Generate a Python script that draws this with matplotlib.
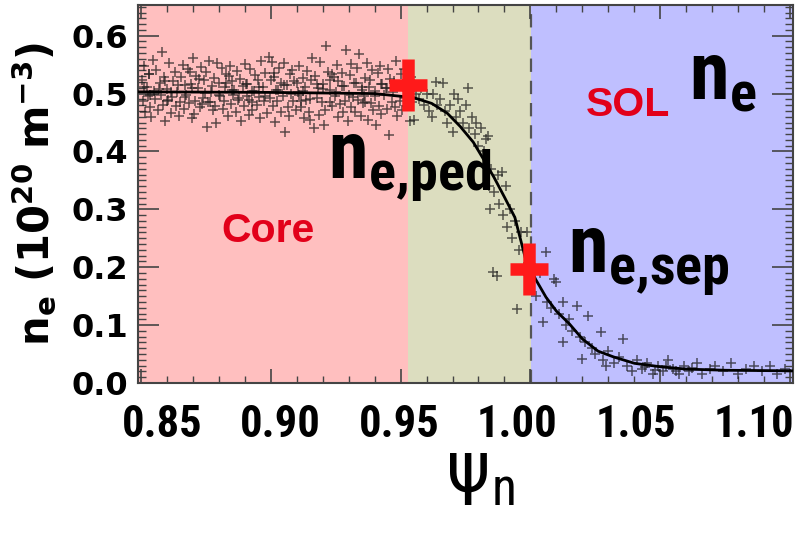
import matplotlib
matplotlib.use("Agg")
import matplotlib.pyplot as plt
from matplotlib.path import Path
from matplotlib.ticker import MultipleLocator, FixedLocator

plt.rcParams["mathtext.rm"] = "Roboto Condensed"
plt.rcParams["mathtext.bf"] = "Roboto Condensed:bold"
plt.rcParams["mathtext.it"] = "Roboto Condensed:italic"

# ---------------- data ----------------
# fitted tanh profile of the electron density
fit_psi = [0.849, 0.900, 0.940, 0.955, 0.962, 0.968, 0.973, 0.978, 0.982, 0.986,
           0.990, 0.994, 0.998, 1.002, 1.006, 1.010, 1.015, 1.020, 1.026, 1.032,
           1.040, 1.050, 1.060, 1.075, 1.101]
fit_ne = [0.503, 0.502, 0.500, 0.493, 0.483, 0.466, 0.443, 0.416, 0.386, 0.355,
          0.321, 0.286, 0.216, 0.179, 0.148, 0.124, 0.102, 0.076, 0.055, 0.045,
          0.034, 0.028, 0.024, 0.022, 0.021]

# Thomson scattering samples, core region (upper half of the scatter band)
core_psi_a = [0.8505, 0.8512, 0.8523, 0.8531, 0.8546, 0.8552, 0.8561, 0.8574, 0.8583, 0.8590,
              0.8603, 0.8611, 0.8626, 0.8632, 0.8641, 0.8655, 0.8662, 0.8670, 0.8684, 0.8693,
              0.8702, 0.8715, 0.8721, 0.8733, 0.8744, 0.8750, 0.8763, 0.8772, 0.8781, 0.8795,
              0.8801, 0.8812, 0.8824, 0.8830, 0.8845, 0.8853, 0.8861, 0.8870, 0.8882, 0.8894,
              0.8903, 0.8911, 0.8922, 0.8935, 0.8941, 0.8952, 0.8964, 0.8971, 0.8980, 0.8993,
              0.9005, 0.9012, 0.9021, 0.9034, 0.9042, 0.9051, 0.9063, 0.9074, 0.9082, 0.9091,
              0.9104, 0.9110, 0.9123, 0.9132, 0.9140, 0.9155, 0.9161, 0.9172, 0.9184, 0.9190,
              0.9201, 0.9215, 0.9222, 0.9230, 0.9243, 0.9254, 0.9260, 0.9273, 0.9281, 0.9292,
              0.9305, 0.9311, 0.9320, 0.9334, 0.9342, 0.9350, 0.9365, 0.9371, 0.9383, 0.9390,
              0.9402, 0.9414, 0.9421, 0.9430, 0.9445, 0.9452, 0.9460, 0.9473, 0.9481, 0.9494,
              0.9500, 0.9512, 0.9520, 0.9531, 0.9540]
core_ne_a = [0.523, 0.547, 0.512, 0.534, 0.558, 0.504, 0.541, 0.518, 0.571, 0.529,
             0.508, 0.552, 0.521, 0.537, 0.503, 0.528, 0.549, 0.514, 0.543, 0.517,
             0.562, 0.531, 0.509, 0.546, 0.524, 0.538, 0.556, 0.502, 0.527, 0.553,
             0.519, 0.544, 0.511, 0.533, 0.548, 0.522, 0.506, 0.539, 0.526, 0.513,
             0.551, 0.516, 0.542, 0.505, 0.532, 0.524, 0.557, 0.511, 0.536, 0.563,
             0.555, 0.529, 0.507, 0.545, 0.518, 0.552, 0.514, 0.534, 0.541, 0.521,
             0.503, 0.548, 0.527, 0.512, 0.539, 0.523, 0.561, 0.531, 0.509, 0.554,
             0.517, 0.583, 0.538, 0.506, 0.528, 0.549, 0.522, 0.536, 0.513, 0.576,
             0.532, 0.551, 0.519, 0.544, 0.568, 0.511, 0.527, 0.553, 0.524, 0.541,
             0.504, 0.535, 0.548, 0.516, 0.509, 0.543, 0.526, 0.521, 0.556, 0.513,
             0.534, 0.542, 0.518, 0.507, 0.529]

# core region, lower half of the scatter band
core_psi_b = [0.8508, 0.8517, 0.8528, 0.8536, 0.8541, 0.8557, 0.8566, 0.8579, 0.8587, 0.8595,
              0.8607, 0.8616, 0.8620, 0.8637, 0.8648, 0.8650, 0.8667, 0.8675, 0.8688, 0.8697,
              0.8706, 0.8710, 0.8727, 0.8738, 0.8740, 0.8756, 0.8768, 0.8777, 0.8786, 0.8791,
              0.8807, 0.8817, 0.8820, 0.8838, 0.8849, 0.8857, 0.8866, 0.8875, 0.8888, 0.8899,
              0.8908, 0.8916, 0.8927, 0.8930, 0.8946, 0.8957, 0.8960, 0.8976, 0.8985, 0.8997,
              0.9008, 0.9017, 0.9026, 0.9039, 0.9047, 0.9056, 0.9068, 0.9070, 0.9087, 0.9096,
              0.9108, 0.9117, 0.9128, 0.9137, 0.9146, 0.9150, 0.9166, 0.9177, 0.9188, 0.9196,
              0.9207, 0.9210, 0.9227, 0.9236, 0.9248, 0.9258, 0.9267, 0.9278, 0.9286, 0.9297,
              0.9309, 0.9316, 0.9325, 0.9338, 0.9347, 0.9356, 0.9360, 0.9376, 0.9388, 0.9396,
              0.9407, 0.9418, 0.9426, 0.9437, 0.9448, 0.9456, 0.9466, 0.9477, 0.9486, 0.9497,
              0.9504, 0.9517, 0.9526, 0.9536, 0.9545]
core_ne_b = [0.487, 0.468, 0.496, 0.476, 0.459, 0.491, 0.472, 0.498, 0.481, 0.452,
             0.489, 0.466, 0.494, 0.478, 0.462, 0.486, 0.473, 0.497, 0.483, 0.457,
             0.464, 0.488, 0.476, 0.482, 0.493, 0.443, 0.485, 0.471, 0.479, 0.449,
             0.495, 0.474, 0.487, 0.461, 0.482, 0.497, 0.469, 0.489, 0.453, 0.478,
             0.496, 0.463, 0.486, 0.472, 0.481, 0.494, 0.458, 0.488, 0.467, 0.493,
             0.479, 0.451, 0.487, 0.469, 0.495, 0.434, 0.477, 0.462, 0.488, 0.471,
             0.497, 0.476, 0.458, 0.489, 0.468, 0.454, 0.441, 0.492, 0.463, 0.485,
             0.446, 0.471, 0.486, 0.478, 0.496, 0.459, 0.482, 0.469, 0.487, 0.453,
             0.477, 0.494, 0.468, 0.489, 0.461, 0.483, 0.495, 0.455, 0.484, 0.472,
             0.445, 0.479, 0.464, 0.497, 0.473, 0.429, 0.486, 0.476, 0.462, 0.488,
             0.471, 0.493, 0.478, 0.452, 0.486]

# core region, samples close to the fitted profile
core_psi_c = [0.8515, 0.8538, 0.8569, 0.8592, 0.8618, 0.8644, 0.8671, 0.8699, 0.8724, 0.8748,
              0.8776, 0.8803, 0.8827, 0.8851, 0.8879, 0.8905, 0.8928, 0.8955, 0.8979, 0.9002,
              0.9029, 0.9053, 0.9077, 0.9101, 0.9126, 0.9152, 0.9179, 0.9203, 0.9227, 0.9251,
              0.9276, 0.9302, 0.9328, 0.9353, 0.9378, 0.9401, 0.9425, 0.9449, 0.9472, 0.9496,
              0.8532, 0.8603, 0.8689, 0.8761, 0.8842, 0.8917, 0.9013, 0.9119, 0.9238, 0.9364]
core_ne_c = [0.512, 0.497, 0.508, 0.521, 0.503, 0.515, 0.494, 0.509, 0.526, 0.501,
             0.513, 0.498, 0.519, 0.506, 0.492, 0.517, 0.504, 0.511, 0.496, 0.523,
             0.507, 0.514, 0.499, 0.518, 0.505, 0.491, 0.516, 0.508, 0.524, 0.502,
             0.513, 0.497, 0.519, 0.506, 0.511, 0.495, 0.517, 0.509, 0.503, 0.514,
             0.533, 0.488, 0.537, 0.485, 0.531, 0.489, 0.536, 0.487, 0.534, 0.486]

# pedestal and scrape-off layer samples
edge_psi = [0.9535, 0.9550, 0.9560, 0.9570, 0.9580, 0.9590, 0.9600, 0.9610, 0.9620, 0.9625,
            0.9635, 0.9640, 0.9650, 0.9663, 0.9670, 0.9680, 0.9690, 0.9700, 0.9705, 0.9715,
            0.9720, 0.9730, 0.9740, 0.9750, 0.9760, 0.9765, 0.9775, 0.9785, 0.9790, 0.9800,
            0.9810, 0.9820, 0.9830, 0.9837, 0.9840, 0.9845, 0.9850, 0.9855, 0.9860, 0.9870,
            0.9875, 0.9880, 0.9890, 0.9895, 0.9905, 0.9910, 0.9920, 0.9930, 0.9940, 0.9950,
            0.9955, 0.9965, 0.9975, 0.9987, 1.0000, 1.0010, 1.0020, 1.0035, 1.0050, 1.0060,
            1.0065, 1.0080, 1.0090, 1.0100, 1.0110, 1.0125, 1.0125, 1.0135, 1.0150, 1.0160,
            1.0180, 1.0190, 1.0200, 1.0210, 1.0220, 1.0235, 1.0250, 1.0270, 1.0280, 1.0290,
            1.0300, 1.0320, 1.0340, 1.0355, 1.0370, 1.0390, 1.0410, 1.0430, 1.0440, 1.0450,
            1.0470, 1.0480, 1.0490, 1.0510, 1.0520, 1.0530, 1.0550, 1.0560, 1.0570, 1.0590,
            1.0610, 1.0620, 1.0640, 1.0660, 1.0690, 1.0710, 1.0740, 1.0770, 1.0800, 1.0830,
            1.0860, 1.0890, 1.0920, 1.0950, 1.0980]
edge_ne = [0.52, 0.455, 0.50, 0.49, 0.51, 0.48, 0.50, 0.47, 0.46, 0.50,
           0.52, 0.48, 0.49, 0.519, 0.47, 0.45, 0.48, 0.433, 0.50, 0.46,
           0.49, 0.47, 0.45, 0.48, 0.51, 0.44, 0.46, 0.43, 0.45, 0.41,
           0.44, 0.40, 0.421, 0.426, 0.34, 0.30, 0.37, 0.191, 0.33, 0.184,
           0.36, 0.31, 0.364, 0.29, 0.34, 0.27, 0.30, 0.25, 0.28, 0.128,
           0.23, 0.26, 0.20, 0.26, 0.17, 0.20, 0.15, 0.19, 0.105, 0.226,
           0.14, 0.13, 0.179, 0.174, 0.12, 0.14, 0.071, 0.10, 0.11, 0.09,
           0.133, 0.08, 0.041, 0.07, 0.116, 0.06, 0.05, 0.088, 0.04, 0.029,
           0.055, 0.035, 0.045, 0.076, 0.03, 0.02, 0.04, 0.025, 0.028, 0.035,
           0.015, 0.022, 0.03, 0.02, 0.03, 0.04, 0.025, 0.02, 0.015, 0.03,
           0.02, 0.026, 0.035, 0.015, 0.025, 0.03, 0.02, 0.035, 0.015, 0.025,
           0.03, 0.02, 0.03, 0.015, 0.025]

# pedestal top and separatrix values
ped_psi, ped_ne = 0.9527, 0.515
sep_psi, sep_ne = 0.9995, 0.197

# region boundaries (normalised flux)
core_edge = 0.9529
separatrix = 1.0002

psi_ticks = [0.85, 0.90, 0.95, 1.00, 1.05, 1.10]
psi_labels = ["0.85", "0.90", "0.95", "1.00", "1.05", "1.10"]
ne_ticks = [0.0, 0.1, 0.2, 0.3, 0.4, 0.5, 0.6]
ne_labels = ["0.0", "0.1", "0.2", "0.3", "0.4", "0.5", "0.6"]

# ---------------- figure ----------------
W, H = 795, 533
fig = plt.figure(figsize=(W / 100, H / 100), dpi=100)
ax = fig.add_axes([138 / W, 150 / H, 655 / W, 378 / H])
xmin, xmax = 0.849, 1.101
ax.set_xlim(xmin, xmax)
ax.set_ylim(0, 0.653)

ax.axvspan(xmin, core_edge, color="#FFBFBF", lw=0, zorder=0)
ax.axvspan(core_edge, separatrix, color="#DCDDBF", lw=0, zorder=0)
ax.axvspan(separatrix, xmax, color="#BFBFFF", lw=0, zorder=0)
ax.axvline(separatrix, color="#555555", lw=1.6, dashes=(6, 4), zorder=1)

pt_style = dict(ls="none", marker="+", ms=6.5, mew=1.1, color="#1a1a1a", alpha=0.7, zorder=2)
ax.plot(core_psi_a, core_ne_a, **pt_style)
ax.plot(core_psi_b, core_ne_b, **pt_style)
ax.plot(core_psi_c, core_ne_c, **pt_style)
ax.plot(edge_psi, edge_ne, **pt_style)
ax.plot(fit_psi, fit_ne, color="black", lw=2.0, zorder=3)

cross = Path([(-0.72, 0), (0.72, 0), (0, -1), (0, 1)],
             [Path.MOVETO, Path.LINETO, Path.MOVETO, Path.LINETO])
ax.plot([ped_psi, sep_psi], [ped_ne, sep_ne], ls="none", marker=cross, ms=38,
        mew=9, color="#FF1A1A", zorder=4)

# axes frame and ticks
for s in ax.spines.values():
    s.set_color("#444444")
    s.set_linewidth(1.5)
ax.xaxis.set_major_locator(FixedLocator(psi_ticks))
ax.xaxis.set_minor_locator(MultipleLocator(0.01))
ax.yaxis.set_major_locator(FixedLocator(ne_ticks))
ax.yaxis.set_minor_locator(MultipleLocator(0.01))
ax.tick_params(which="both", direction="in", top=True, right=True,
               color="#444444", labelbottom=False)
ax.tick_params(axis="x", which="major", length=10, width=1.2)
ax.tick_params(axis="x", which="minor", length=5, width=1.0)
ax.tick_params(axis="y", which="major", length=15, width=1.2)
ax.tick_params(axis="y", which="minor", length=6, width=1.0)
ax.set_yticklabels(ne_labels, fontsize=23, fontweight="bold", family="DejaVu Sans")
ax.tick_params(axis="y", pad=7)

narrow = ["Roboto Condensed", "Roboto", "DejaVu Sans"]


# tick labels of the flux coordinate
def to_label(x):
    return 0.85 + (368.5 + (x - 1.0) * 2600.0) / 2368.0


def from_label(v):
    return 1.0 + ((v - 0.85) * 2368.0 - 368.5) / 2600.0


sec = ax.secondary_xaxis("bottom", functions=(to_label, from_label))
sec.set_xticks(psi_ticks)
sec.set_xticklabels(psi_labels, fontsize=32, fontweight="bold", family=narrow)
sec.tick_params(length=0, pad=15)
sec.spines["bottom"].set_visible(False)

ax.set_ylabel(r"$\mathbf{n_e\ (10^{20}\ m^{-3})}$", fontsize=30, labelpad=10,
              math_fontfamily="dejavusans")

fig.text(447 / W, 1 - 505 / H, "Ψ", ha="left", va="baseline", fontsize=52, family=narrow)
fig.text(492 / W, 1 - 505 / H, "n", ha="left", va="baseline", fontsize=37, family=narrow)

# annotations
red = "#E2001A"
ax.text(0.8990, 0.263, "Core", color=red, fontsize=29.5, fontweight="bold",
        family="Liberation Sans", ha="center", va="center")
ax.text(1.0375, 0.480, "SOL", color=red, fontsize=29.5, fontweight="bold",
        family="Liberation Sans", ha="center", va="center")

label_style = dict(ha="left", va="baseline", fontsize=58, math_fontfamily="custom")
fig.text(328 / W, 1 - 178 / H, r"$\mathbf{n}_{\mathbf{e{,}ped}}$", **label_style)
fig.text(568 / W, 1 - 272 / H, r"$\mathbf{n}_{\mathbf{e{,}sep}}$", **label_style)
fig.text(689 / W, 1 - 100 / H, r"$\mathbf{n}_{\mathbf{e}}$", **label_style)

fig.savefig("out.png", dpi=100)
